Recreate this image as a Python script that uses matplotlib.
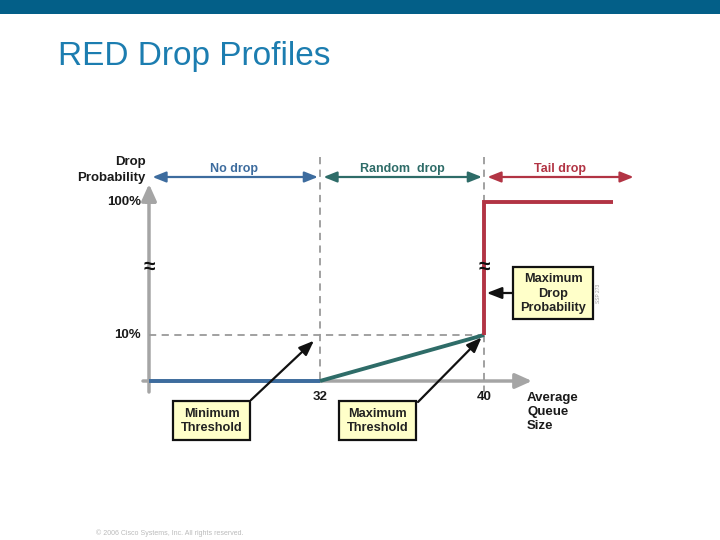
import numpy as np
import matplotlib
matplotlib.use('Agg')
import matplotlib.pyplot as plt
import matplotlib.transforms as mtransforms
from matplotlib.patches import Rectangle

plt.rcParams['font.family'] = ['Liberation Sans', 'DejaVu Sans']

# --- データ ---
thresholds = [32, 40]           # 最小/最大しきい値
prob_marks = [0, 10, 100]       # 確率 (%)
queue_end = 46.3                # 赤線の右端
zone_labels = ['No drop', 'Random  drop', 'Tail drop']
zone_colors = ['#3D6C9E', '#2E6C68', '#B23444']

# 折れ軸 (≈) のための区分線形スケール
def piecewise(xk, yk):
    xk = np.asarray(xk, float)
    yk = np.asarray(yk, float)
    s0 = (yk[1] - yk[0]) / (xk[1] - xk[0])
    s1 = (yk[-1] - yk[-2]) / (xk[-1] - xk[-2])

    def f(v):
        v = np.asarray(v, float)
        out = np.interp(v, xk, yk)
        out = np.where(v < xk[0], yk[0] + (v - xk[0]) * s0, out)
        out = np.where(v > xk[-1], yk[-1] + (v - xk[-1]) * s1, out)
        return out
    return f

x_fwd = piecewise([0] + thresholds, [149, 320, 484])
x_inv = piecewise([149, 320, 484], [0] + thresholds)
y_fwd = piecewise(prob_marks, [159, 205, 338])
y_inv = piecewise([159, 205, 338], prob_marks)

fig = plt.figure(figsize=(7.2, 5.4), dpi=100)

# ピクセル座標 (上が0) の補助軸 -- 変換にだけ使う
pax = fig.add_axes([0, 0, 1, 1])
pax.set_xlim(0, 720)
pax.set_ylim(540, 0)
pax.axis('off')

ax = fig.add_axes([0, 0, 1, 1], facecolor='none')
ax.set_xscale('function', functions=(x_fwd, x_inv))
ax.set_yscale('function', functions=(y_fwd, y_inv))
ax.set_xlim(float(x_inv(0)), float(x_inv(720)))
ax.set_ylim(float(y_inv(0)), float(y_inv(540)))
ax.axis('off')

px = pax.transData
mix = mtransforms.blended_transform_factory(ax.transData, px)
txt = dict(fontweight='bold', color='#1A1A1A')

# ヘッダーとタイトル
ax.add_patch(Rectangle((0, 0), 720, 14, color='#035F88', lw=0, transform=px))
ax.text(58, 57, 'RED Drop Profiles', fontsize=24, color='#1C7DB0',
        ha='left', va='center', transform=px)
ax.text(96, 533, '\u00a9 2006 Cisco Systems, Inc. All rights reserved.',
        fontsize=5, color='#BBBBBB', ha='left', va='center', transform=px)

# 軸 (灰色の矢印)
gray = '#A5A5A5'
head = '-|>,head_length=1.0,head_width=0.45'
ax.annotate('', xy=(149, 184), xytext=(149, 392), xycoords=px, textcoords=px,
            arrowprops=dict(arrowstyle=head, mutation_scale=10, color=gray, lw=2.5,
                            shrinkA=0, shrinkB=0), zorder=1)
ax.annotate('', xy=(532, 381), xytext=(143, 381), xycoords=px, textcoords=px,
            arrowprops=dict(arrowstyle=head, mutation_scale=10, color=gray, lw=2.5,
                            shrinkA=0, shrinkB=0), zorder=1)
ax.plot([146, 154], [202, 202], color=gray, lw=2, transform=px, zorder=1)

# 補助の破線
dash = dict(color='#9A9A9A', lw=1.3, ls=(0, (4, 3)), zorder=2)
ax.plot([0, thresholds[1]], [prob_marks[1]] * 2, **dash)
ax.plot([thresholds[0]] * 2, [157, 381], transform=mix, **dash)
ax.plot([thresholds[1]] * 2, [157, 202], transform=mix, **dash)
ax.plot([thresholds[1]] * 2, [335, 392], transform=mix, **dash)

# ドロップ確率の線
ax.plot([0, thresholds[0]], [0, 0], color=zone_colors[0], lw=2.8,
        solid_capstyle='butt', zorder=4)
ax.plot(thresholds, [0, prob_marks[1]], color=zone_colors[1], lw=2.8,
        solid_capstyle='butt', zorder=4)
ax.plot([thresholds[1], thresholds[1], queue_end],
        [prob_marks[1], prob_marks[2], prob_marks[2]], color=zone_colors[2],
        lw=2.8, solid_capstyle='butt', solid_joinstyle='miter', zorder=4)

# 上部の範囲矢印
edges = [0] + thresholds + [queue_end + 1.1]
for i in range(3):
    x0, x1 = edges[i], edges[i + 1]
    ax.annotate('', xy=(x1, 177), xytext=(x0, 177), xycoords=mix, textcoords=mix,
                arrowprops=dict(arrowstyle='<|-|>,head_length=0.8,head_width=0.32',
                                mutation_scale=10, color=zone_colors[i], lw=1.6,
                                shrinkA=2.5, shrinkB=1.5))
    xm = float(x_inv((x_fwd(x0) + x_fwd(x1)) / 2))
    ax.text(xm, 169, zone_labels[i], transform=mix, fontsize=9, fontweight='bold',
            color=zone_colors[i], ha='center', va='center')

# 軸ラベル
ax.text(146, 170, 'Drop\nProbability', fontsize=9.5, ha='right', va='center',
        linespacing=1.4, transform=px, **txt)
ax.text(527, 412, 'Average\nQueue\nSize', fontsize=9.5, ha='left', va='center',
        linespacing=1.25, transform=px, **txt)
for p in prob_marks[1:]:
    ax.annotate(f'{p}%', xy=(0, p), xytext=(-8, 0), textcoords='offset pixels',
                fontsize=9.5, ha='right', va='center', **txt)
for t in thresholds:
    ax.annotate(str(t), xy=(t, 0), xytext=(0, -16), textcoords='offset pixels',
                fontsize=9.5, ha='center', va='center', **txt)

# 折れ目の記号
for xb in [0, thresholds[1]]:
    ax.text(xb, 267, '\u2248', transform=mix, fontsize=15, fontweight='bold',
            ha='center', va='center', color='#111111', zorder=6)

# 注釈ボックス
boxes = [
    ((173, 401), 77, 39, 'Minimum\nThreshold'),
    ((339, 401), 77, 39, 'Maximum\nThreshold'),
    ((513, 267), 80, 52, 'Maximum\nDrop\nProbability'),
]
for (bx, by), w, h, label in boxes:
    ax.add_patch(Rectangle((bx, by), w, h, facecolor='#FFFFC9', edgecolor='#111111',
                           lw=1.6, zorder=5, transform=px))
    ax.text(bx + w / 2, by + h / 2 + 0.5, label, fontsize=9.2, fontweight='bold',
            ha='center', va='center', linespacing=1.3, color='#222222', zorder=6,
            transform=px)

arrow_kw = dict(arrowstyle='-|>,head_length=0.9,head_width=0.35', mutation_scale=10,
                color='#111111', lw=1.6, shrinkA=0)
ax.annotate('', xy=(thresholds[0], prob_marks[1]), xycoords='data',
            xytext=(251, 400), textcoords=px,
            arrowprops=dict(arrow_kw, shrinkB=6), zorder=6)
ax.annotate('', xy=(thresholds[1], prob_marks[1]), xycoords='data',
            xytext=(418, 402), textcoords=px,
            arrowprops=dict(arrow_kw, shrinkB=2.5), zorder=6)
ax.annotate('', xy=(thresholds[1], 293), xycoords=mix,
            xytext=(513, 293), textcoords=px,
            arrowprops=dict(arrow_kw, shrinkB=2), zorder=6)

ax.text(599, 293, 'SSP 273', fontsize=3.5, color='#999999', rotation=90,
        ha='center', va='center', transform=px)

fig.savefig('out.png', dpi=100)
